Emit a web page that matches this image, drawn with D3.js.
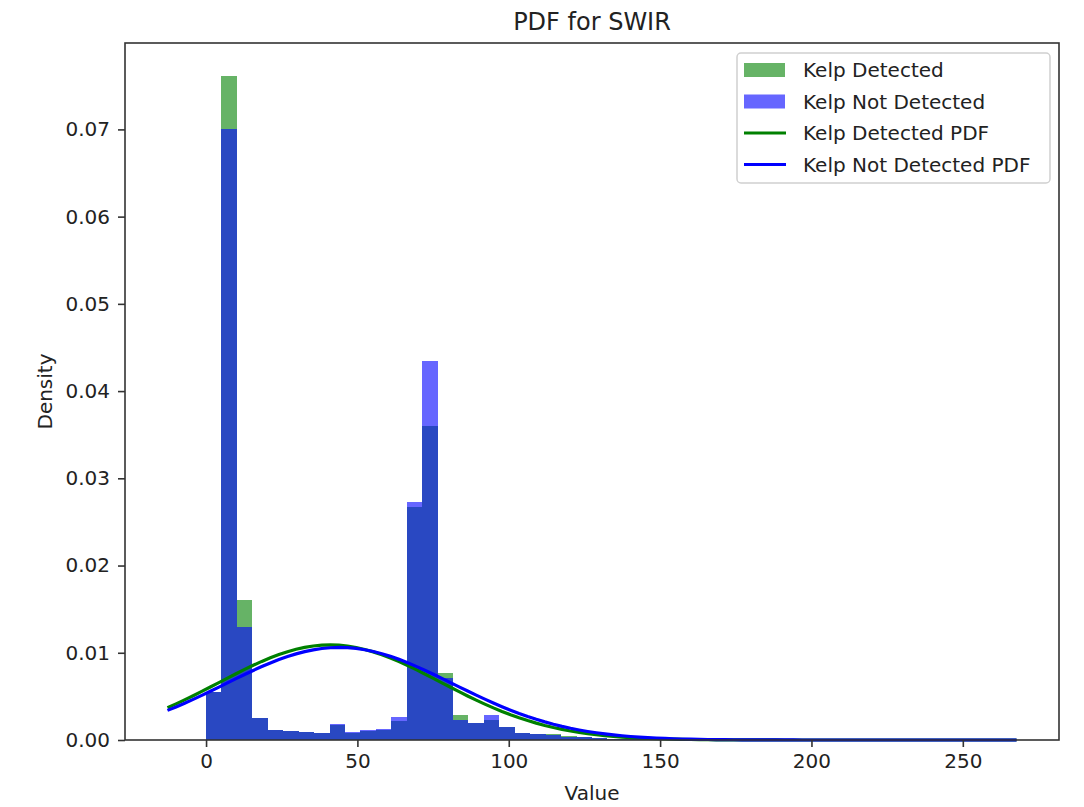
<!DOCTYPE html>
<html>
<head>
<meta charset="utf-8">
<script src="https://cdn.jsdelivr.net/npm/d3@7"></script>
<style>
  html, body { margin: 0; padding: 0; background: #fff; }
  svg { display: block; font-family: "DejaVu Sans", sans-serif; }
</style>
</head>
<body>
<svg id="chart" width="1084" height="807"></svg>
<script>
// ---------------- data ----------------
const title = "PDF for SWIR";
const xLabel = "Value";
const yLabel = "Density";
const binStart = 0;
const binEnd = 255;
const binCount = 50;

// histogram densities per bin (bin width 5.1, from 0 to 255)
const detectedDensity = [
  0.0055, 0.0761, 0.0161, 0.0025, 0.0011, 0.0010, 0.0009, 0.0008, 0.0017, 0.0008,
  0.0010, 0.0011, 0.0022, 0.0267, 0.0360, 0.0077, 0.0029, 0.0019, 0.0023, 0.0015,
  0.0008, 0.0007, 0.0007, 0.0005, 0.0003, 0.0002, 0.0001, 0.0001, 0.0001, 0.0001,
  0.0001, 0.0001, 0.0001, 0.0001, 0.0001, 0.0001, 0.0001, 0.0001, 0.0001, 0.0001,
  0.0001, 0.0001, 0.0001, 0.0001, 0.0001, 0.0001, 0.0001, 0.0001, 0.0001, 0.0001
];
const notDetectedDensity = [
  0.0055, 0.0700, 0.0129, 0.0025, 0.0011, 0.0010, 0.0009, 0.0008, 0.0018, 0.0009,
  0.0011, 0.0013, 0.0026, 0.0273, 0.0435, 0.0071, 0.0023, 0.0019, 0.0029, 0.0015,
  0.0008, 0.0007, 0.0006, 0.0004, 0.0003, 0.0002, 0.0001, 0.0001, 0.0001, 0.0001,
  0.0001, 0.0001, 0.0001, 0.0001, 0.0001, 0.0001, 0.0001, 0.0001, 0.0001, 0.0001,
  0.0001, 0.0001, 0.0001, 0.0001, 0.0001, 0.0001, 0.0001, 0.0001, 0.0001, 0.0001
];

// fitted normal PDF parameters [mean, std]
const detectedFit = [41, 36.6];
const notDetectedFit = [44, 37.6];

const xTicks = [0, 50, 100, 150, 200, 250];
const yTicks = [0.00, 0.01, 0.02, 0.03, 0.04, 0.05, 0.06, 0.07];

const legendLabels = ["Kelp Detected", "Kelp Not Detected", "Kelp Detected PDF", "Kelp Not Detected PDF"];

// ---------------- layout ----------------
const W = 1084, H = 807;
const margin = { top: 43, right: 25, bottom: 67, left: 125 };
const iw = W - margin.left - margin.right;
const ih = H - margin.top - margin.bottom;

const svg = d3.select("#chart");
const g = svg.append("g").attr("transform", `translate(${margin.left},${margin.top})`);

const binW = (binEnd - binStart) / binCount;
const bins = d3.range(binCount).map(i => binStart + i * binW);

// PDF line sample range (matplotlib xlim after histogram)
const dataSpan = binEnd - binStart;
const pdfMin = binStart - 0.05 * dataSpan;
const pdfMax = binEnd + 0.05 * dataSpan;
const xs = d3.range(100).map(i => pdfMin + (pdfMax - pdfMin) * i / 99);
function normPdf(x, m, s) { return Math.exp(-0.5 * ((x - m) / s) ** 2) / (s * Math.sqrt(2 * Math.PI)); }
const detPdf = xs.map(x => [x, normPdf(x, detectedFit[0], detectedFit[1])]);
const notPdf = xs.map(x => [x, normPdf(x, notDetectedFit[0], notDetectedFit[1])]);

const lineSpan = pdfMax - pdfMin;
const x = d3.scaleLinear()
  .domain([pdfMin - 0.05 * lineSpan, pdfMax + 0.05 * lineSpan])
  .range([0, iw]);
const yMax = d3.max([...detectedDensity, ...notDetectedDensity]) * 1.05;
const y = d3.scaleLinear().domain([0, yMax]).range([ih, 0]);

// ---------------- bars ----------------
const greenFill = "#008000", blueFill = "#0000ff";
g.append("g").selectAll("rect").data(detectedDensity).join("rect")
  .attr("x", (d, i) => x(bins[i]))
  .attr("width", (d, i) => x(bins[i] + binW) - x(bins[i]))
  .attr("y", d => y(d))
  .attr("height", d => y(0) - y(d))
  .attr("fill", greenFill).attr("fill-opacity", 0.6)
  .attr("shape-rendering", "crispEdges");
g.append("g").selectAll("rect").data(notDetectedDensity).join("rect")
  .attr("x", (d, i) => x(bins[i]))
  .attr("width", (d, i) => x(bins[i] + binW) - x(bins[i]))
  .attr("y", d => y(d))
  .attr("height", d => y(0) - y(d))
  .attr("fill", blueFill).attr("fill-opacity", 0.6)
  .attr("shape-rendering", "crispEdges");

// ---------------- lines ----------------
const line = d3.line().x(d => x(d[0])).y(d => y(d[1]));
g.append("path").datum(detPdf).attr("d", line)
  .attr("fill", "none").attr("stroke", "#008000").attr("stroke-width", 3.2);
g.append("path").datum(notPdf).attr("d", line)
  .attr("fill", "none").attr("stroke", "#0000ff").attr("stroke-width", 3.2);

// ---------------- axes ----------------
const axisColor = "#333";
const xAxis = g.append("g").attr("transform", `translate(0,${ih})`)
  .call(d3.axisBottom(x).tickValues(xTicks).tickFormat(d3.format("d")).tickSizeOuter(0).tickSize(7).tickPadding(7));
const yAxis = g.append("g")
  .call(d3.axisLeft(y).tickValues(yTicks).tickFormat(d3.format(".2f")).tickSizeOuter(0).tickSize(7).tickPadding(8));
[xAxis, yAxis].forEach(a => {
  a.selectAll(".domain").remove();
  a.selectAll(".tick line").attr("stroke", axisColor).attr("stroke-width", 1.6);
  a.selectAll(".tick text").attr("fill", "#222").style("font-size", "20px").style("font-family", "DejaVu Sans");
});

// frame
g.append("rect").attr("x", 0).attr("y", 0).attr("width", iw).attr("height", ih)
  .attr("fill", "none").attr("stroke", axisColor).attr("stroke-width", 1.6);

// labels
svg.append("text").attr("x", margin.left + iw / 2).attr("y", 30)
  .attr("text-anchor", "middle").style("font-size", "24px").attr("fill", "#222").text(title);
svg.append("text").attr("x", margin.left + iw / 2).attr("y", 800)
  .attr("text-anchor", "middle").style("font-size", "20px").attr("fill", "#222").text(xLabel);
svg.append("text").attr("transform", `translate(52,${margin.top + ih / 2}) rotate(-90)`)
  .attr("text-anchor", "middle").style("font-size", "20px").attr("fill", "#222").text(yLabel);

// ---------------- legend ----------------
const lg = svg.append("g");
lg.append("rect").attr("x", 737).attr("y", 53).attr("width", 313).attr("height", 130)
  .attr("rx", 4).attr("fill", "#fff").attr("fill-opacity", 0.8)
  .attr("stroke", "#d0d0d0").attr("stroke-width", 1.5);
const rowY = [70, 101.5, 133, 164.5];
const kinds = [
  { type: "patch", color: greenFill },
  { type: "patch", color: blueFill },
  { type: "line", color: "#008000" },
  { type: "line", color: "#0000ff" }
];
legendLabels.forEach((lab, i) => {
  const k = kinds[i];
  if (k.type === "patch") {
    lg.append("rect").attr("x", 744).attr("y", rowY[i] - 7).attr("width", 41).attr("height", 14)
      .attr("fill", k.color).attr("fill-opacity", 0.6);
  } else {
    lg.append("line").attr("x1", 744).attr("x2", 786).attr("y1", rowY[i]).attr("y2", rowY[i])
      .attr("stroke", k.color).attr("stroke-width", 3);
  }
  lg.append("text").attr("x", 803).attr("y", rowY[i]).attr("dy", "0.36em")
    .style("font-size", "20px").attr("fill", "#222").text(lab);
});
</script>
</body>
</html>
